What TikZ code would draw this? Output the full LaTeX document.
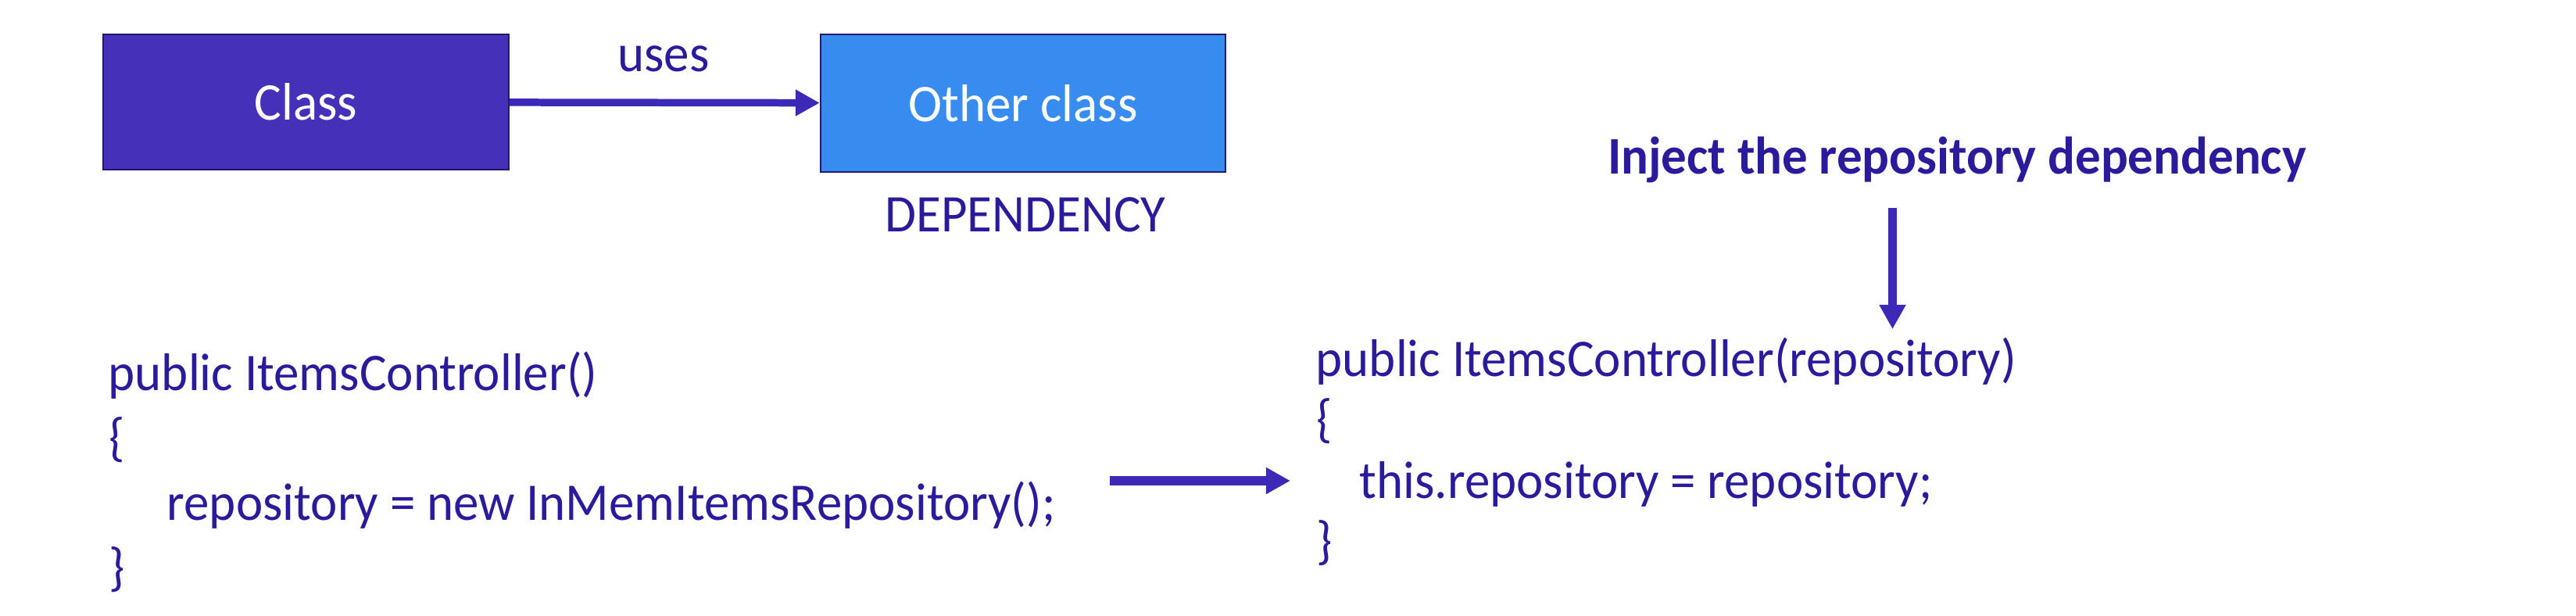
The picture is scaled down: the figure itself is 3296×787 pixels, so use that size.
\documentclass[tikz,border=0pt]{standalone}
\usepackage{fontspec}
\setmainfont{Carlito}[FakeStretch=0.96]
\usepackage{tikz}
\usetikzlibrary{arrows.meta}
\definecolor{boxpurple}{HTML}{4530B9}
\definecolor{boxblue}{HTML}{388CF0}
\definecolor{boxedge}{HTML}{22196E}
\definecolor{inkblue}{HTML}{2A1B9C}
\definecolor{arrowblue}{HTML}{3C29B8}

\begin{document}
\begin{tikzpicture}[x=0.01cm,y=-0.01cm,
    every node/.style={font=\fontsize{19.25pt}{23.6pt}\selectfont,text=inkblue,inner sep=0},
    classbox/.style={draw=boxedge,line width=0.6pt,minimum width=5.19cm,minimum height=1.73cm,text=white},
    codeline/.style={anchor=base west},
    bigarrow/.style={draw=arrowblue,line width=3pt,-{Triangle[length=0.31cm,width=0.32cm]}}]

    \useasboundingbox (0,0) rectangle (3296,787);

    \node[classbox,fill=boxpurple] (klass) at (391.5,130.5) {Class};

    \node[classbox,fill=boxblue,minimum width=5.18cm,minimum height=1.76cm]
    (other) at (1309,132) {Other class};

    \node[anchor=base] (uses) at (849,91) {uses};

    \node[anchor=base] (dep) at (1312,296) {DEPENDENCY};

    \draw[bigarrow,line width=2.7pt] (klass) -- (other);



    \node[codeline] (oldsig) at (138,499) {public ItemsController()};
    \node[codeline] (oldopen) at (139,582) {\{};
    \node[codeline] (oldbody) at (213,665) {repository = new InMemItemsRepository();};
    \node[codeline] (oldclose) at (139,748) {\}};

    \coordinate (swapfrom) at (1420,615);
    \coordinate (swapto) at (1651,615);
    \draw[bigarrow,line width=3.3pt] (swapfrom) -- (swapto);



    \node[anchor=base,font=\fontsize{19.25pt}{23.6pt}\selectfont\bfseries]
    (inject) at (2504,222) {Inject the repository dependency};

    \coordinate (injfrom) at (2421.5,266);
    \coordinate (injto) at (2421.5,421);
    \draw[bigarrow,line width=3.1pt] (injfrom) -- (injto);

    \node[codeline] (newsig) at (1683,481) {public ItemsController(repository)};
    \node[codeline] (newopen) at (1684,558) {\{};
    \node[codeline] (newbody) at (1739,637) {this.repository = repository;};
    \node[codeline] (newclose) at (1684,714) {\}};

  \end{tikzpicture}
\end{document}
